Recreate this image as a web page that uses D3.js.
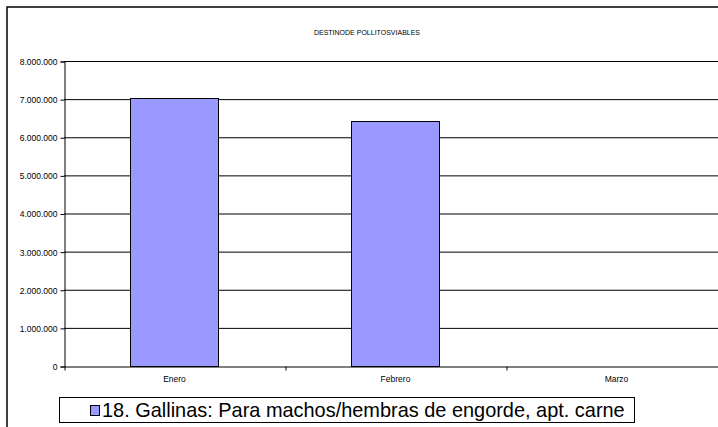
<!DOCTYPE html>
<html>
<head>
<meta charset="utf-8">
<script src="https://cdn.jsdelivr.net/npm/d3@7"></script>
<style>
  body { margin: 0; background: #fff; }
  text { font-family: "Liberation Sans", Arial, sans-serif; fill: #000; }
</style>
</head>
<body>
<div id="chart"></div>
<script>
// chart data
var months = ["Enero", "Febrero", "Marzo"];
var pollitos = [7030000, 6430000, 0];
var yTicks = [0, 1000000, 2000000, 3000000, 4000000, 5000000, 6000000, 7000000, 8000000];
var chartTitle = "DESTINODE POLLITOSVIABLES";
var seriesName = "18. Gallinas: Para machos/hembras de engorde, apt. carne";

var svgWidth = 718;
var svgHeight = 427;

// plot area
var plot = { left: 64, right: 727, top: 61, bottom: 366 };

var svg = d3.select("#chart")
  .append("svg")
  .attr("width", svgWidth)
  .attr("height", svgHeight);

svg.append("rect")
  .attr("width", svgWidth)
  .attr("height", svgHeight)
  .attr("fill", "#fff");

// outer chart border
svg.append("rect")
  .attr("x", 7)
  .attr("y", 7)
  .attr("width", 740)
  .attr("height", 440)
  .attr("fill", "none")
  .attr("stroke", "#000")
  .attr("stroke-width", 1.5);

// title
svg.append("text")
  .attr("x", 367)
  .attr("y", 35)
  .attr("text-anchor", "middle")
  .style("font-size", "7px")
  .text(chartTitle);

var locale = d3.formatLocale({ decimal: ",", thousands: ".", grouping: [3], currency: ["", ""] });
var fmt = locale.format(",");

var yScale = d3.scaleLinear()
  .domain([0, 8000000])
  .range([plot.bottom, plot.top]);

var xScale = d3.scaleBand()
  .domain(months)
  .range([plot.left, plot.right])
  .paddingInner(0.6)
  .paddingOuter(0.3);

// gridlines
svg.append("g")
  .selectAll("line")
  .data(yTicks.slice(1))
  .enter()
  .append("line")
  .attr("x1", plot.left)
  .attr("x2", plot.right)
  .attr("y1", d => yScale(d) + 0.5)
  .attr("y2", d => yScale(d) + 0.5)
  .attr("stroke", "#000")
  .attr("stroke-width", 1);

// bars
svg.append("g")
  .selectAll("rect")
  .data(pollitos)
  .enter()
  .append("rect")
  .attr("x", (d, i) => Math.round(xScale(months[i])) + 0.5)
  .attr("y", d => Math.round(yScale(d)) + 0.5)
  .attr("width", Math.round(xScale.bandwidth()))
  .attr("height", d => Math.round(yScale(0)) - Math.round(yScale(d)))
  .attr("fill", "#9999FF")
  .attr("stroke", d => d > 0 ? "#000" : "none")
  .attr("stroke-width", 1);

// y axis
var leftAxis = d3.axisLeft(yScale)
  .tickValues(yTicks)
  .tickFormat(fmt)
  .tickSize(4)
  .tickPadding(3);

var yAxis = svg.append("g")
  .attr("transform", `translate(${plot.left + 0.5}, 0.5)`)
  .call(leftAxis);
yAxis.select(".domain").attr("stroke", "#000");
yAxis.selectAll("line").attr("stroke", "#000");
yAxis.selectAll("text")
  .attr("dy", "0.35em")
  .style("font-size", "8.5px")
  .style("font-family", "'Liberation Sans', Arial, sans-serif");

// x axis: ticks at category boundaries
var boundary = d3.scaleLinear()
  .domain([0, months.length])
  .range([plot.left, plot.right]);

var bottomAxis = d3.axisBottom(boundary)
  .tickValues(d3.range(months.length + 1))
  .tickFormat("")
  .tickSize(4)
  .tickSizeOuter(0);

var xAxis = svg.append("g")
  .attr("transform", `translate(0.5, ${plot.bottom + 0.5})`)
  .call(bottomAxis);
xAxis.select(".domain").attr("stroke", "#000");
xAxis.selectAll("line").attr("stroke", "#000");

// category labels
svg.append("g")
  .selectAll("text")
  .data(months)
  .enter()
  .append("text")
  .attr("x", d => xScale(d) + xScale.bandwidth() / 2)
  .attr("y", 382)
  .attr("text-anchor", "middle")
  .style("font-size", "8.5px")
  .text(d => d);

// legend
var legend = svg.append("g");
legend.append("rect")
  .attr("x", 59.5)
  .attr("y", 397.5)
  .attr("width", 575)
  .attr("height", 25)
  .attr("fill", "#fff")
  .attr("stroke", "#000")
  .attr("stroke-width", 1);

legend.append("rect")
  .attr("x", 90.5)
  .attr("y", 405.5)
  .attr("width", 9)
  .attr("height", 10)
  .attr("fill", "#9999FF")
  .attr("stroke", "#000")
  .attr("stroke-width", 1);

var legendText = legend.append("text")
  .attr("x", 102)
  .attr("y", 417)
  .style("font-size", "20px")
  .text(seriesName);

// fit legend text to the width in the picture
var w = legendText.node().getComputedTextLength();
legendText.style("font-size", (20 * 523 / w).toFixed(2) + "px");
</script>
</body>
</html>
